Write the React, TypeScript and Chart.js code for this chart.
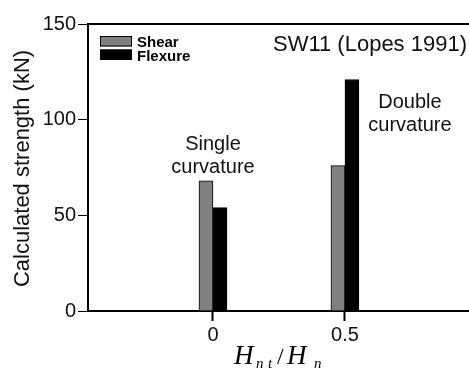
import React, { useEffect, useRef } from "react";
import { Chart, registerables } from "chart.js";

Chart.register(...registerables);

const xPositions = [0, 0.5];
const xTickLabels = ["0", "0.5"];
const shearValues = [68, 76];
const flexureValues = [54, 121];
const seriesNames = ["Shear", "Flexure"];
const seriesColors = ["#808080", "#000000"];
const yTicks = [0, 50, 100, 150];
const title = "SW11 (Lopes 1991)";
const yTitle = "Calculated strength (kN)";
const notes = [
  { x: 0, lines: ["Single", "curvature"], value: 84 },
  { x: 0.5, lines: ["Double", "curvature"], value: 106 },
];

const SANS = "'Liberation Sans', Arial, Helvetica, sans-serif";
const SERIF = "'Liberation Serif', 'Times New Roman', serif";

const overlay = {
  id: "overlay",
  afterDraw(chart: any) {
    const ctx = chart.ctx as CanvasRenderingContext2D;
    const area = chart.chartArea;
    const xs = chart.scales.x;
    const ys = chart.scales.y;
    ctx.save();
    // top frame line
    ctx.strokeStyle = "#000";
    ctx.lineWidth = 2;
    ctx.beginPath();
    ctx.moveTo(area.left - 1, area.top);
    ctx.lineTo(area.right, area.top);
    ctx.stroke();

    // legend
    const ds = chart.data.datasets;
    ds.forEach((d: any, i: number) => {
      const top = area.top + 12 + i * 13.5;
      ctx.fillStyle = d.backgroundColor;
      ctx.fillRect(area.left + 12, top, 32, 10.5);
      ctx.strokeStyle = "#000";
      ctx.lineWidth = 1;
      ctx.strokeRect(area.left + 12.5, top + 0.5, 31, 9.5);
      ctx.fillStyle = "#000";
      ctx.font = `bold 15px ${SANS}`;
      ctx.textAlign = "left";
      ctx.textBaseline = "alphabetic";
      ctx.fillText(d.label, area.left + 49, top + 11);
    });

    // title
    ctx.font = `22px ${SANS}`;
    ctx.textAlign = "right";
    ctx.fillStyle = "#111";
    ctx.fillText(title, area.right - 2, area.top + 27);

    // notes
    ctx.font = `20px ${SANS}`;
    ctx.textAlign = "center";
    notes.forEach((n, i) => {
      const cx = xs.getPixelForValue(n.x) + (i === 0 ? 0 : 65);
      const by = ys.getPixelForValue(n.value);
      n.lines.forEach((l, j) => {
        ctx.fillText(l, cx, by + j * 23);
      });
    });

    // y title
    ctx.save();
    ctx.translate(29, (area.top + area.bottom) / 2 + 1);
    ctx.rotate(-Math.PI / 2);
    ctx.font = `22px ${SANS}`;
    ctx.textAlign = "center";
    ctx.fillText(yTitle, 0, 0);
    ctx.restore();

    // x title H_nt / H_n
    ctx.textAlign = "left";
    ctx.fillStyle = "#000";
    const bx = 234;
    const base = 364;
    ctx.font = `italic 27px ${SERIF}`;
    ctx.fillText("H", bx, base);
    ctx.font = `italic 15px ${SERIF}`;
    ctx.fillText("n", bx + 22, base + 4);
    ctx.fillText("t", bx + 34, base + 4);
    ctx.font = `24px ${SERIF}`;
    ctx.fillText("/", bx + 43, base);
    ctx.font = `italic 27px ${SERIF}`;
    ctx.fillText("H", bx + 53, base);
    ctx.font = `italic 15px ${SERIF}`;
    ctx.fillText("n", bx + 80, base + 4);
    ctx.restore();
  },
};

export default function App() {
  const ref = useRef<HTMLCanvasElement | null>(null);
  useEffect(() => {
    document.body.style.margin = "0";
    const canvas = ref.current!;
    const chart = new Chart(canvas, {
      type: "bar",
      data: {
        datasets: [
          {
            label: seriesNames[0],
            data: xPositions.map((x, i) => ({ x, y: shearValues[i] })),
            backgroundColor: seriesColors[0],
            borderColor: "#000",
            borderWidth: 1,
            barThickness: 14,
          },
          {
            label: seriesNames[1],
            data: xPositions.map((x, i) => ({ x, y: flexureValues[i] })),
            backgroundColor: seriesColors[1],
            borderColor: "#000",
            borderWidth: 1,
            barThickness: 14,
          },
        ],
      },
      options: {
        animation: false,
        responsive: false,
        maintainAspectRatio: false,
        layout: { padding: { top: 24, right: 0, bottom: 0, left: 0 } },
        plugins: { legend: { display: false }, tooltip: { enabled: false } },
        scales: {
          x: {
            type: "linear",
            offset: false,
            min: -0.4735,
            max: 0.97,
            grid: {
              offset: false,
              drawOnChartArea: false,
              drawTicks: true,
              tickLength: 10,
              tickWidth: 2,
              tickColor: "#000",
            },
            border: { display: true, color: "#000", width: 2 },
            afterBuildTicks: (s: any) => {
              s.ticks = xPositions.map((v) => ({ value: v }));
            },
            ticks: {
              callback: (v: any) => xTickLabels[xPositions.indexOf(Number(v))] ?? "",
              color: "#111",
              font: { family: SANS, size: 20 },
              padding: 2,
              maxRotation: 0,
            },
            afterFit: (s: any) => {
              s.height = 58;
            },
          },
          y: {
            type: "linear",
            min: 0,
            max: 150,
            grid: {
              drawOnChartArea: false,
              drawTicks: true,
              tickLength: 10,
              tickWidth: 1,
              tickColor: "#000",
            },
            border: { display: true, color: "#000", width: 2 },
            afterBuildTicks: (s: any) => {
              s.ticks = yTicks.map((v) => ({ value: v }));
            },
            ticks: {
              color: "#111",
              font: { family: SANS, size: 20 },
              padding: 2,
            },
            afterFit: (s: any) => {
              s.width = 88;
            },
          },
        },
      },
      plugins: [overlay],
    });
    return () => chart.destroy();
  }, []);
  return (
    <div style={{ width: 469, height: 369 }}>
      <canvas ref={ref} width={469} height={369} style={{ display: "block" }} />
    </div>
  );
}
